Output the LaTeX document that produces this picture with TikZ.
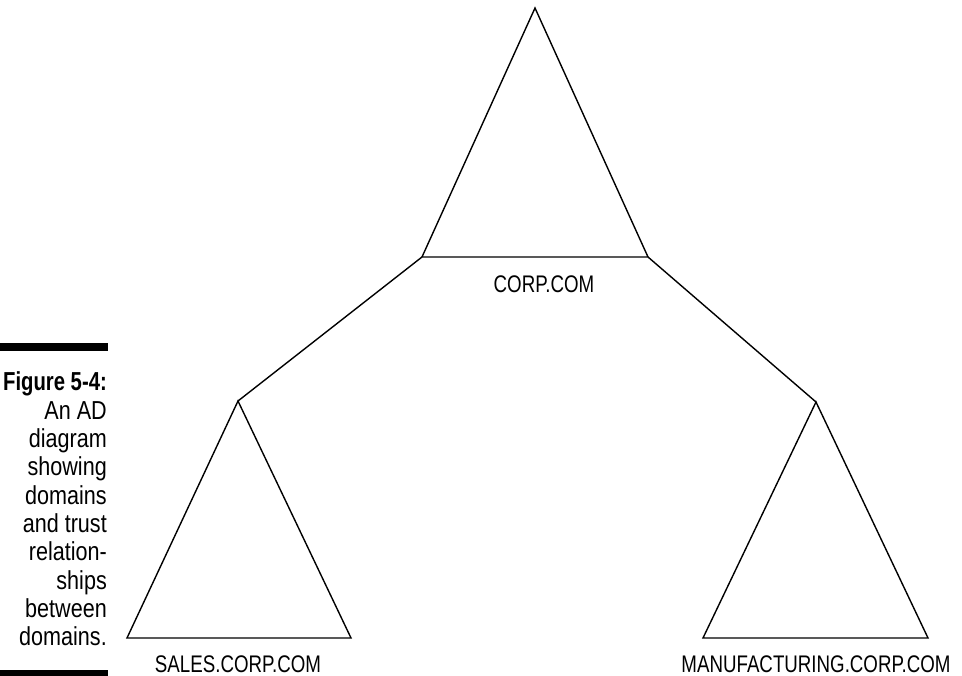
\documentclass[tikz,border=0pt]{standalone}
\usepackage{fontspec}
\newfontfamily\condfont{Liberation Sans}[FakeStretch=0.78]
\newfontfamily\captfont{Liberation Sans}[FakeStretch=0.83]
\newfontfamily\captbold{Liberation Sans Bold}[FakeStretch=0.78]
\begin{document}
\begin{tikzpicture}[x=1pt,y=-1pt,
  tri/.style={draw=black,line width=1.4pt,line join=miter},
  link/.style={draw=black,line width=1.4pt},
  lab/.style={anchor=base,inner sep=0pt,font=\condfont\fontsize{24}{28}\selectfont},
  captxt/.style={anchor=base east,inner sep=0pt,font=\captfont\fontsize{26}{28}\selectfont},
  bar/.style={fill=black,draw=none}]
\useasboundingbox (0,0) rectangle (962,676);
% top triangle
\coordinate (ta) at (535,8);
\coordinate (tl) at (422,257);
\coordinate (tr) at (648,257);
% left triangle
\coordinate (la) at (238,401);
\coordinate (ll) at (127,638);
\coordinate (lr) at (351,638);
% right triangle
\coordinate (ra) at (816,402);
\coordinate (rl) at (703,638);
\coordinate (rr) at (928,638);
\draw[tri] (ta) -- (tl) -- (tr) -- cycle;
\draw[tri] (la) -- (ll) -- (lr) -- cycle;
\draw[tri] (ra) -- (rl) -- (rr) -- cycle;
\draw[link] (tl) -- (la);
\draw[link] (tr) -- (ra);
% labels
\node[lab] (corp) at (544,293) {CORP.COM};
\node[lab] (sales) at (238,672) {SALES.CORP.COM};
\node[lab] (manu) at (816,672) {MANUFACTURING.CORP.COM};
% caption bars
\fill[bar] (0,343) rectangle (108,351);
\fill[bar] (0,670) rectangle (108,676);
% caption
\node[captxt] (c0) at (107,391) {\captbold Figure 5-4:};
\node[captxt] (c1) at (107,419.3) {An AD};
\node[captxt] (c2) at (107,447.6) {diagram};
\node[captxt] (c3) at (107,475.9) {showing};
\node[captxt] (c4) at (107,504.2) {domains};
\node[captxt] (c5) at (107,532.5) {and trust};
\node[captxt] (c6) at (107,560.8) {relation-};
\node[captxt] (c7) at (107,589.1) {ships};
\node[captxt] (c8) at (107,617.4) {between};
\node[captxt] (c9) at (107,645.7) {domains.};
\end{tikzpicture}
\end{document}
